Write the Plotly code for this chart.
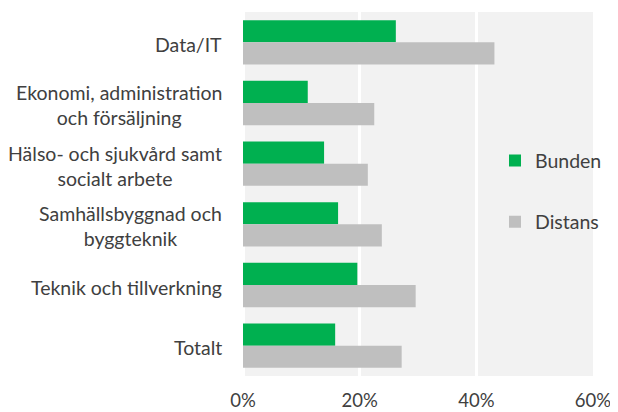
import plotly.graph_objects as go

categories = ["Data/IT", "Ekonomi, administration<br>och försäljning",
              "Hälso- och sjukvård samt<br>socialt arbete",
              "Samhällsbyggnad och<br>byggteknik", "Teknik och tillverkning", "Totalt"]
bunden = [0.262, 0.111, 0.139, 0.163, 0.196, 0.158]
distans = [0.431, 0.225, 0.214, 0.238, 0.296, 0.272]
x_ticks = [0, 0.2, 0.4, 0.6]
x_tick_labels = ["0%", "20%", "40%", "60%"]

FONT = "Lato"
TXT = "#404040"
FS = 19.5

fig = go.Figure()
fig.add_trace(go.Bar(y=categories, x=bunden, orientation="h", name="Bunden", showlegend=True,
                     marker=dict(color="#00B050", line=dict(width=0)), legend="legend"))
fig.add_trace(go.Bar(y=categories, x=distans, orientation="h", name="Distans", showlegend=True,
                     marker=dict(color="#BFBFBF", line=dict(width=0)), legend="legend2"))

for c in categories:
    fig.add_annotation(x=-0.054, xref="paper", y=c, yref="y", text=c, showarrow=False,
                       xanchor="right", yanchor="middle", align="center", yshift=-2,
                       font=dict(family=FONT, size=FS, color=TXT))

fig.update_layout(
    width=610, height=404,
    margin=dict(l=235, r=25, t=4, b=36, autoexpand=False),
    paper_bgcolor="white", plot_bgcolor="#F2F2F2",
    barmode="group", bargap=0.27, bargroupgap=0,
    showlegend=True,
    font=dict(family=FONT, size=FS, color=TXT),
    xaxis=dict(range=[0, 0.6], tickvals=x_ticks, ticktext=x_tick_labels,
               showgrid=True, gridcolor="white", gridwidth=3,
               zeroline=True, zerolinecolor="white", zerolinewidth=3,
               showline=False, ticks="", ticklabelstandoff=11,
               tickfont=dict(family=FONT, size=18.5, color=TXT)),
    yaxis=dict(autorange="reversed", showticklabels=False, showgrid=False, ticks="",
               zeroline=False, showline=False),
    legend=dict(x=0.72, y=0.591, xanchor="left", yanchor="middle", bgcolor="rgba(0,0,0,0)",
                font=dict(family=FONT, size=FS, color=TXT), itemwidth=30),
    legend2=dict(x=0.72, y=0.423, xanchor="left", yanchor="middle", bgcolor="rgba(0,0,0,0)",
                 font=dict(family=FONT, size=FS, color=TXT), itemwidth=30),
)

fig.write_html("out.html")
